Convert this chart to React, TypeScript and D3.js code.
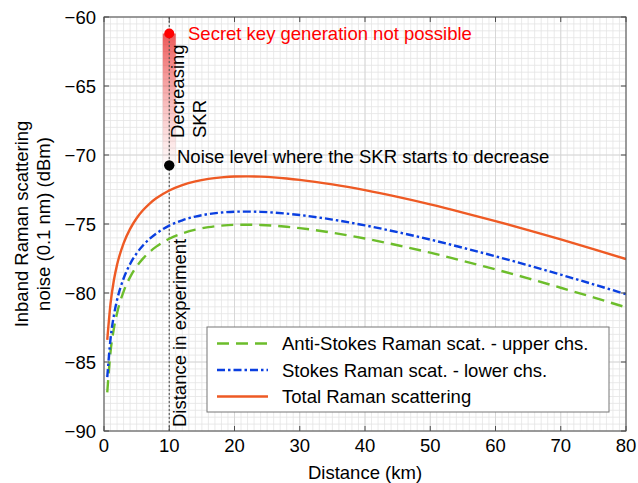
import React from 'react';
import * as d3 from 'd3';

const distances = [0.5, 1, 1.5, 2, 3, 4, 5, 6, 7, 8, 10, 12, 14, 16, 18, 20, 22, 24, 26, 28, 30, 35, 40, 45, 50, 55, 60, 65, 70, 75, 80];
const totalRaman = [-83.4, -80.77, -79.11, -77.96, -76.4, -75.35, -74.58, -73.99, -73.52, -73.14, -72.57, -72.18, -71.91, -71.73, -71.62, -71.56, -71.55, -71.57, -71.62, -71.7, -71.8, -72.13, -72.55, -73.04, -73.58, -74.17, -74.79, -75.44, -76.12, -76.82, -77.54];
const stokesRaman = [-86.1, -83.32, -81.66, -80.51, -78.95, -77.9, -77.13, -76.54, -76.07, -75.69, -75.12, -74.73, -74.46, -74.28, -74.17, -74.11, -74.1, -74.12, -74.17, -74.25, -74.35, -74.68, -75.1, -75.59, -76.13, -76.72, -77.34, -77.99, -78.67, -79.37, -80.09];
const antiStokesRaman = [-87.2, -84.27, -82.61, -81.46, -79.9, -78.85, -78.08, -77.49, -77.02, -76.64, -76.07, -75.68, -75.41, -75.23, -75.12, -75.06, -75.05, -75.07, -75.12, -75.2, -75.3, -75.63, -76.05, -76.54, -77.08, -77.67, -78.29, -78.94, -79.62, -80.32, -81.04];

const xTicks = [0, 10, 20, 30, 40, 50, 60, 70, 80];
const yTicks = [-90, -85, -80, -75, -70, -65, -60];
const legendLabels = ['Anti-Stokes Raman scat. - upper chs.', 'Stokes Raman scat. - lower chs.', 'Total Raman scattering'];

const experimentDistance = 10;
const impossibleLevel = -61.2;
const thresholdLevel = -70.75;

const FONT = '"Liberation Sans", Arial, Helvetica, sans-serif';
const FS = 18.5;

export default function App() {
  const W = 638, H = 483;
  const L = 104, R = 626, T = 17, B = 431;
  const x = d3.scaleLinear().domain([0, 80]).range([L, R]);
  const y = d3.scaleLinear().domain([-90, -60]).range([B, T]);

  const minorX = d3.range(0, 81, 1);
  const minorY = d3.range(-90, -59.9, 0.5);

  const mk = (vals: number[]) =>
    d3.line<number>()
      .x((_, i) => x(distances[i]))
      .y((v) => y(v))
      .curve(d3.curveMonotoneX)(vals) || '';

  const series = [
    { vals: antiStokesRaman, color: '#6cbd2b', dash: '12,7', label: legendLabels[0] },
    { vals: stokesRaman, color: '#0a3fe0', dash: '8,3,2.5,3', label: legendLabels[1] },
    { vals: totalRaman, color: '#ee5a24', dash: '', label: legendLabels[2] },
  ];

  const xe = x(experimentDistance);
  const yTop = y(impossibleLevel);
  const yThr = y(thresholdLevel);
  const tick = 5;
  const axisColor = '#4d4d4d';

  return (
    <svg width={W} height={H} style={{ position: 'absolute', left: 0, top: 0, background: '#fff' }} fontFamily={FONT}>
      <defs>
        <clipPath id="plot">
          <rect x={L} y={T} width={R - L} height={B - T} />
        </clipPath>
        <linearGradient id="skrGrad" x1="0" y1="0" x2="0" y2="1">
          <stop offset="0" stopColor="#e83030" stopOpacity={0.8} />
          <stop offset="0.45" stopColor="#ee5050" stopOpacity={0.45} />
          <stop offset="1" stopColor="#f07070" stopOpacity={0.03} />
        </linearGradient>
      </defs>
      <rect x={L} y={T} width={R - L} height={B - T} fill="#fff" />
      <g stroke="#e4e4e4" strokeWidth={0.8}>
        {minorX.map((v) => (
          <line key={'mx' + v} x1={x(v)} x2={x(v)} y1={T} y2={B} />
        ))}
        {minorY.map((v) => (
          <line key={'my' + v} x1={L} x2={R} y1={y(v)} y2={y(v)} />
        ))}
      </g>
      <g stroke="#d2d2d2" strokeWidth={0.8}>
        {xTicks.map((v) => (
          <line key={'gx' + v} x1={x(v)} x2={x(v)} y1={T} y2={B} />
        ))}
        {yTicks.map((v) => (
          <line key={'gy' + v} x1={L} x2={R} y1={y(v)} y2={y(v)} />
        ))}
      </g>

      <rect x={xe - 6.5} y={yTop} width={13} height={yThr - yTop} fill="url(#skrGrad)" />
      <line x1={xe} x2={xe} y1={T} y2={B} stroke="#555" strokeWidth={1.1} strokeDasharray="2,2" />

      <g clipPath="url(#plot)" fill="none">
        {series.map((s) => (
          <path key={s.label} d={mk(s.vals)} stroke={s.color} strokeWidth={2.4} strokeDasharray={s.dash || undefined} />
        ))}
      </g>

      <circle cx={xe} cy={yTop} r={5} fill="#ff0000" />
      <circle cx={xe} cy={yThr} r={5.2} fill="#000" />

      <text x={188} y={39.5} fontSize={FS} fill="#ff0000">Secret key generation not possible</text>
      <text x={177} y={163} fontSize={FS} fill="#000">Noise level where the SKR starts to decrease</text>
      <text transform="translate(184,138) rotate(-90)" fontSize={FS} fill="#000">Decreasing</text>
      <text transform="translate(206,138) rotate(-90)" fontSize={FS} fill="#000">SKR</text>
      <text transform="translate(186,427) rotate(-90)" fontSize={FS} fill="#000">Distance in experiment</text>

      <rect x={L} y={T} width={R - L} height={B - T} fill="none" stroke={axisColor} strokeWidth={1} />
      <g stroke={axisColor} strokeWidth={1}>
        {xTicks.map((v) => (
          <g key={'tx' + v}>
            <line x1={x(v)} x2={x(v)} y1={B} y2={B - tick} />
            <line x1={x(v)} x2={x(v)} y1={T} y2={T + tick} />
          </g>
        ))}
        {yTicks.map((v) => (
          <g key={'ty' + v}>
            <line x1={L} x2={L + tick} y1={y(v)} y2={y(v)} />
            <line x1={R} x2={R - tick} y1={y(v)} y2={y(v)} />
          </g>
        ))}
      </g>
      <g fontSize={FS} fill="#000">
        {xTicks.map((v) => (
          <text key={'lx' + v} x={x(v)} y={452} textAnchor="middle">{String(v)}</text>
        ))}
        {yTicks.map((v) => (
          <text key={'ly' + v} x={L - 8} y={y(v) + 6.5} textAnchor="end">{String(v).replace('-', '\u2212')}</text>
        ))}
      </g>
      <text x={(L + R) / 2} y={479} fontSize={FS} textAnchor="middle" fill="#000">Distance (km)</text>
      <text transform={`translate(28,${(T + B) / 2}) rotate(-90)`} fontSize={FS} textAnchor="middle" fill="#000">Inband Raman scattering</text>
      <text transform={`translate(50,${(T + B) / 2}) rotate(-90)`} fontSize={FS} textAnchor="middle" fill="#000">noise (0.1 nm) (dBm)</text>

      <rect x={207} y={327} width={402} height={85} fill="#fff" stroke="#777" strokeWidth={1} />
      {series.map((s, i) => {
        const ly = 343.5 + i * 26.5;
        return (
          <g key={'lg' + i}>
            <line x1={217} x2={268} y1={ly} y2={ly} stroke={s.color} strokeWidth={2.4} strokeDasharray={s.dash || undefined} />
            <text x={282} y={ly + 6.5} fontSize={FS} fill="#000">{s.label}</text>
          </g>
        );
      })}
    </svg>
  );
}
